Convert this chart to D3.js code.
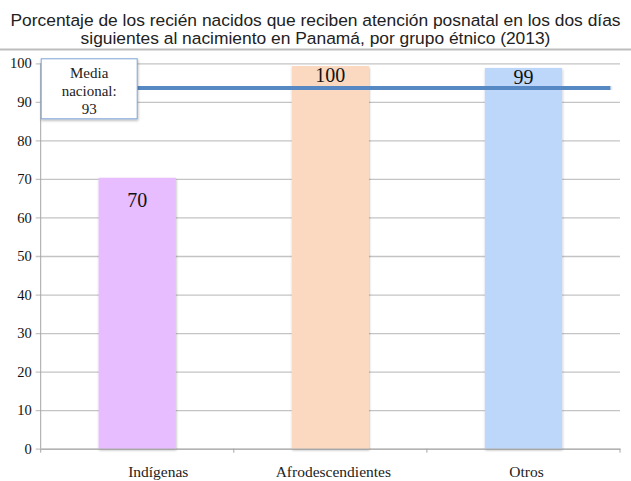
<!DOCTYPE html>
<html>
<head>
<meta charset="utf-8">
<script src="https://cdn.jsdelivr.net/npm/d3@7"></script>
<style>
  body { margin: 0; background: #fff; }
  svg { display: block; }
</style>
</head>
<body>
<svg width="631" height="481"></svg>
<script>
/* data */
var titleLines = [
  "Porcentaje de los recién nacidos que reciben atención posnatal en los dos días",
  "siguientes al nacimiento en Panamá, por grupo étnico (2013)"
];
var categories = ["Indígenas", "Afrodescendientes", "Otros"];
var values = [70.3, 99.3, 98.8];
var valueLabels = ["70", "100", "99"];
var barColors = ["#e7bdff", "#fad9c0", "#bdd7fb"];
var yTicks = [0, 10, 20, 30, 40, 50, 60, 70, 80, 90, 100];
var mediaLabel = ["Media", "nacional:", "93"];
var mediaLine = [93.5, 93.9];   // drawn a little tilted, as in the picture

var svg = d3.select("svg"),
    margin = {top: 63.3, right: 11, bottom: 32.3, left: 40.7},
    w = +svg.attr("width") - margin.left - margin.right,
    h = +svg.attr("height") - margin.top - margin.bottom;

var serif = "'Liberation Serif', 'DejaVu Serif', serif";

// title
svg.selectAll("text.title")
  .data(titleLines)
  .enter().append("text")
    .attr("class", "title")
    .attr("x", 315.5)
    .attr("y", function(d, i) { return 26 + i * 18; })
    .attr("text-anchor", "middle")
    .style("font-family", "'Liberation Sans', Arial, sans-serif")
    .style("font-size", "17.4px")
    .style("fill", "#222")
    .text(function(d) { return d; });

svg.append("line")
    .attr("x1", 0).attr("x2", 631)
    .attr("y1", 49.5).attr("y2", 49.5)
    .style("stroke", "#bdbdbd")
    .style("stroke-width", 2);

var x = d3.scaleBand().domain(categories).range([0, w]).padding(0),
    y = d3.scaleLinear().domain([0, 100]).range([h, 0]);

var g = svg.append("g")
    .attr("transform", "translate(" + margin.left + "," + margin.top + ")");

// gridlines + y axis
var yAxis = d3.axisLeft(y).tickValues(yTicks).tickSize(-w).tickPadding(9);
var gy = g.append("g").call(yAxis);
gy.select(".domain").remove();
gy.selectAll(".tick line")
    .attr("x1", -5)
    .style("stroke", "#c4c4c4")
    .style("stroke-width", 1.3);
gy.selectAll(".tick text")
    .style("font-family", serif)
    .style("font-size", "14.5px")
    .style("fill", "#111");

g.append("line")
    .attr("x1", 0).attr("x2", 0)
    .attr("y1", 0).attr("y2", h)
    .style("stroke", "#a6a6a6");

// shadow filter
var defs = svg.append("defs");
var f = defs.append("filter").attr("id", "shadow")
    .attr("x", "-20%").attr("y", "-50%").attr("width", "140%").attr("height", "200%");
f.append("feDropShadow")
    .attr("dx", 0.5).attr("dy", 1.5).attr("stdDeviation", 1.2)
    .attr("flood-color", "#000").attr("flood-opacity", 0.28);

// bars
var barW = x.bandwidth() * 0.4;
g.selectAll("rect.bar")
  .data(values)
  .enter().append("rect")
    .attr("class", "bar")
    .attr("x", function(d, i) { return x(categories[i]) + (x.bandwidth() - barW) / 2; })
    .attr("y", function(d) { return y(d); })
    .attr("width", barW)
    .attr("height", function(d) { return h - y(d); })
    .style("fill", function(d, i) { return barColors[i]; })
    .attr("filter", "url(#shadow)");

// x axis
var xAxis = d3.axisBottom(x).tickSize(0).tickPadding(17);
var gx = g.append("g")
    .attr("transform", "translate(0," + h + ")")
    .call(xAxis);
gx.select(".domain").style("stroke", "#a6a6a6");
gx.selectAll(".tick text")
    .attr("dx", function(d, i) { return i === 0 ? 21 : 3; })
    .style("font-family", serif)
    .style("font-size", "15.5px")
    .style("fill", "#222");
// category boundary ticks
gx.selectAll("line.sep")
  .data(d3.range(categories.length + 1))
  .enter().append("line")
    .attr("class", "sep")
    .attr("x1", function(i) { return i * x.step(); })
    .attr("x2", function(i) { return i * x.step(); })
    .attr("y1", 0).attr("y2", 4)
    .style("stroke", "#a6a6a6");

// bar value labels
var labelDy = [29, 16.5, 16.5];
g.selectAll("text.val")
  .data(values)
  .enter().append("text")
    .attr("class", "val")
    .attr("x", function(d, i) { return x(categories[i]) + x.bandwidth() / 2; })
    .attr("y", function(d, i) { return y(d) + labelDy[i]; })
    .attr("text-anchor", "middle")
    .style("font-family", serif)
    .style("font-size", "20px")
    .style("fill", "#111")
    .text(function(d, i) { return valueLabels[i]; });

// national average line
var lx = d3.scaleLinear().domain([0, categories.length]).range([0, w]);
var lineGen = d3.line()
    .x(function(d, i) { return lx(i === 0 ? 0.45 : 2.95); })
    .y(function(d) { return y(d); });
g.append("path")
    .datum(mediaLine)
    .attr("d", lineGen)
    .style("fill", "none")
    .style("stroke", "#5689c3")
    .style("stroke-width", 7)
    .attr("filter", "url(#shadow)");

// callout box
var box = g.append("g").attr("transform", "translate(0.5," + (y(100) - 4.5) + ")");
box.append("rect")
    .attr("width", 96)
    .attr("height", 60)
    .style("fill", "#fff")
    .style("stroke", "#7fa6d6")
    .style("stroke-width", 1)
    .attr("filter", "url(#shadow)");
box.selectAll("text")
  .data(mediaLabel)
  .enter().append("text")
    .attr("x", 48)
    .attr("y", function(d, i) { return 19 + i * 18; })
    .attr("text-anchor", "middle")
    .style("font-family", serif)
    .style("font-size", "15px")
    .style("fill", "#222")
    .text(function(d) { return d; });
</script>
</body>
</html>
